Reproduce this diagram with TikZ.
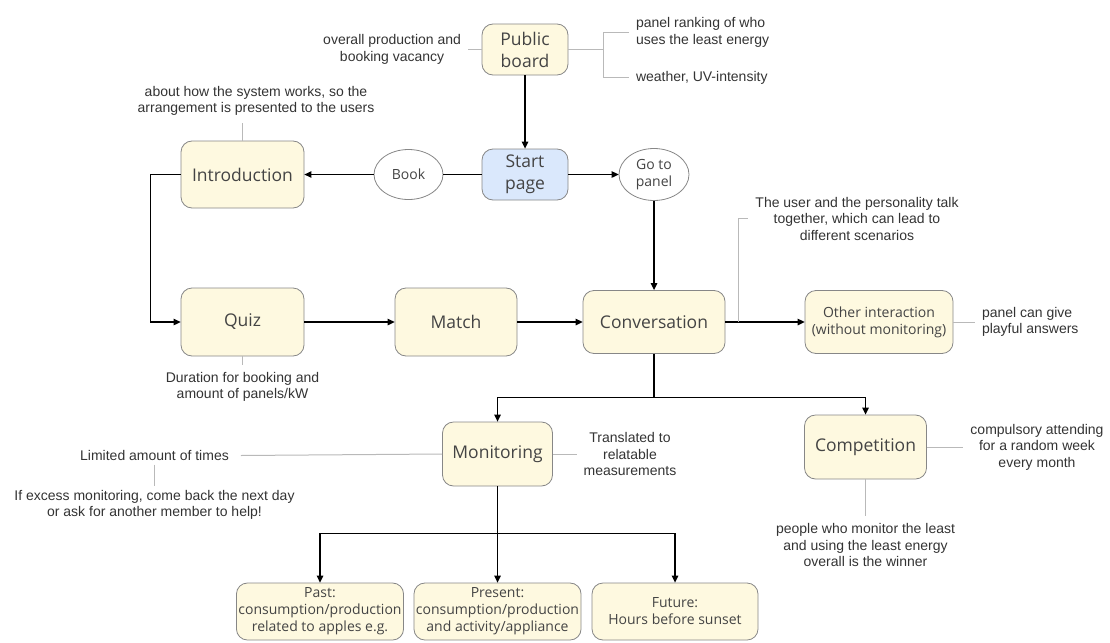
\documentclass[tikz,border=0pt]{standalone}
\usepackage{fontspec}
\setmainfont{Liberation Sans}
\newfontfamily\boxfont{Open Sans}
\usepackage{tikz}
\usetikzlibrary{arrows.meta, shapes, positioning}

\definecolor{boxfill}{RGB}{254,249,224}
\definecolor{boxline}{RGB}{135,135,135}
\definecolor{startfill}{RGB}{218,232,252}
\definecolor{notegray}{RGB}{185,185,185}
\definecolor{boxtext}{RGB}{68,68,68}
\definecolor{notetext}{RGB}{51,51,51}

\begin{document}
\begin{tikzpicture}[x=1pt, y=-1pt, ->, >={Triangle[length=7pt,width=6.5pt]},
 line width=1.3pt,
 stepbox/.style={draw=boxline, line width=0.8pt, fill=boxfill, rounded corners=11pt,
   align=center, text=boxtext, inner sep=2pt, font=\boxfont\fontsize{17.5}{22}\selectfont},
 smalltext/.style={font=\boxfont\fontsize{14}{17}\selectfont},
 choice/.style={ellipse, draw=boxline, line width=0.8pt, fill=white, align=center,
   text=boxtext, inner sep=1pt, smalltext},
 notetext/.style={align=center, text=notetext, inner sep=4pt, outer sep=3pt,
   font=\fontsize{14}{16.5}\selectfont},
 note/.style={-, draw=notegray, line width=1pt}]

  \useasboundingbox (0,0) rectangle (1110,642);

  \node[stepbox, minimum width=86pt, minimum height=51pt] (pub) at (525,49.5) {Public\\board};
  \node[stepbox, fill=startfill, minimum width=86pt, minimum height=51pt] (start) at (525,174.5) {Start\\page};
  \node[stepbox, minimum width=123pt, minimum height=67pt] (intro) at (242.5,174.5) {Introduction};
  \node[choice, minimum width=69pt, minimum height=50pt] (book) at (408.5,174.5) {Book};
  \node[choice, minimum width=70pt, minimum height=52pt] (goto) at (654,174.5) {Go to\\panel};

  \node[stepbox, minimum width=123pt, minimum height=68pt] (quiz) at (242.5,322) {Quiz};
  \node[stepbox, minimum width=122pt, minimum height=68pt] (match) at (456,322) {Match};
  \node[stepbox, minimum width=142pt, minimum height=63pt] (conv) at (654,322) {Conversation};
  \node[stepbox, smalltext, minimum width=148pt, minimum height=63pt] (other) at (879,322) {Other interaction\\(without monitoring)};

  \node[stepbox, minimum width=110pt, minimum height=64pt] (monitor) at (497.5,454) {Monitoring};
  \node[stepbox, minimum width=122pt, minimum height=64pt] (comp) at (865.5,447) {Competition};

  \node[stepbox, smalltext, minimum width=166pt, minimum height=57pt] (past) at (320,611.5) {Past:\\consumption/production\\related to apples e.g.};
  \node[stepbox, smalltext, minimum width=166pt, minimum height=57pt] (present) at (497.5,611.5) {Present:\\consumption/production\\and activity/appliance};
  \node[stepbox, smalltext, minimum width=166pt, minimum height=57pt] (future) at (675,611.5) {Future:\\Hours before sunset};

  \node[notetext, anchor=east] (pubL) at (468,49.5) {overall production and\\booking vacancy};
  \node[notetext, anchor=west, align=left] (pubR1) at (629,32.5) {panel ranking of who\\uses the least energy};
  \node[notetext, anchor=west, align=left] (pubR2) at (629,77.5) {weather, UV-intensity};
  \node[notetext] (introL) at (256,101) {about how the system works, so the\\arrangement is presented to the users};
  \node[notetext] (quizL) at (242.5,387) {Duration for booking and\\amount of panels/kW};
  \node[notetext] (convL) at (857,218.5) {The user and the personality talk\\together, which can lead to\\different scenarios};
  \node[notetext, anchor=west, align=left] (otherL) at (975,322) {panel can give\\playful answers};
  \node[notetext, inner sep=2pt, outer sep=0pt] (limit) at (154.5,455.5) {Limited amount of times};
  \node[notetext, inner sep=2pt, outer sep=0pt] (excess) at (154.5,505) {If excess monitoring, come back the next day\\or ask for another member to help!};
  \node[notetext] (monR) at (630,454) {Translated to\\relatable\\measurements};
  \node[notetext] (compR) at (1037,447) {compulsory attending\\for a random week\\every month};
  \node[notetext] (compB) at (865.5,545) {people who monitor the least\\and using the least energy\\overall is the winner};

  \path
   (pub) edge (start)
   (book) edge (intro)
   (start) edge (goto)
   (goto) edge (conv)
   (quiz) edge (match)
   (match) edge (conv)
   (conv) edge (other)
   (monitor) edge (present);
  \draw[-] (start) -- (book);
  \draw (intro.west) -- ++(-30,0) |- (quiz.west);
  \draw (conv.south) -- ++(0,43.5) coordinate (split) -| (monitor.north);
  \draw (split) -| (comp.north);
  \draw (monitor.south) -- ++(0,47) coordinate (fan) -| (past.north);
  \draw (fan) -| (future.north);

  \coordinate (pubfork) at (603.5,49.5);
  \coordinate (convfork) at (738.5,322);
  \draw[note] (pubL.east) -- (pub.west);
  \draw[note] (pub.east) -- (pubfork);
  \draw[note] (pubR1.west) -| (pubfork) |- (pubR2.west);
  \draw[note] (intro.north) -- (intro.north |- introL.south);
  \draw[note] (quiz.south) -- (quiz.south |- quizL.north);
  \draw[note] (convfork) |- (convL.west);
  \draw[note] (other.east) -- (otherL.west);
  \draw[note] ([xshift=10pt]limit.east) -- (monitor.west);
  \draw[note, shorten <=9pt, shorten >=19pt] (limit.center) -- (excess.center);
  \draw[note] (monitor.east) -- (monR.west);
  \draw[note] (comp.east) -- (compR.west);
  \draw[note] (comp.south) -- (compB.north);
\end{tikzpicture}
\end{document}
